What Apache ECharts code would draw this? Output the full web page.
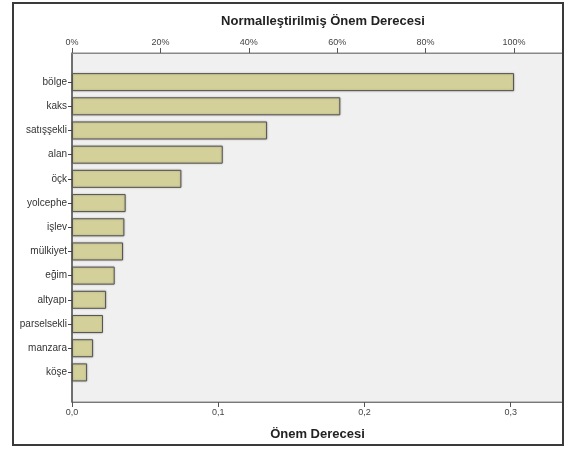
<!DOCTYPE html>
<html><head><meta charset="utf-8">
<script src="https://cdn.jsdelivr.net/npm/echarts@6/dist/echarts.min.js"></script>
<style>html,body{margin:0;padding:0;background:#fff}#c{width:566px;height:453px}</style>
</head><body><div id="c"></div>
<script>
const categories = ['bölge','kaks','satışşekli','alan','öçk','yolcephe','işlev','mülkiyet','eğim','altyapı','parselsekli','manzara','köşe'];
const importance = [0.3023,0.1835,0.1334,0.1031,0.0748,0.0367,0.0358,0.0349,0.0292,0.0233,0.0212,0.0144,0.0103];
const axisMax = 0.3358;
const chartTitle = 'Normalleştirilmiş Önem Derecesi';
const xTitle = 'Önem Derecesi';

const maxVal = Math.max(...importance);
const pctMax = axisMax / maxVal * 100;
const font = 'Arial, "Liberation Sans", sans-serif';

const chart = echarts.init(document.getElementById('c'));
chart.setOption({
  animation: false,
  backgroundColor: '#fff',
  graphic: [{
    type: 'rect', shape: {x: 13, y: 3, width: 550, height: 442},
    style: {fill: 'none', stroke: '#3a3a3a', lineWidth: 2}, z: 100
  }],
  title: {
    text: chartTitle, left: 318, top: 10, textAlign: 'center',
    textStyle: {fontFamily: font, fontSize: 13, fontWeight: 'bold', color: '#222'}
  },
  grid: [
    {left: 72, right: 3, top: 53, bottom: 51, show: true, backgroundColor: '#f0f0f0', borderColor: '#8a8a8a', borderWidth: 1},
    {left: 72, right: 3, top: 70, bottom: 68.5}
  ],
  xAxis: [
    {gridIndex: 0, type: 'value', position: 'bottom', min: 0, max: axisMax, interval: 0.1,
     name: xTitle, nameLocation: 'middle', nameGap: 26,
     nameTextStyle: {fontFamily: font, fontSize: 13, fontWeight: 'bold', color: '#222'},
     axisLine: {show: true, lineStyle: {color: '#777', width: 1}},
     axisTick: {show: true, length: 5, lineStyle: {color: '#555'}},
     splitLine: {show: false},
     axisLabel: {fontFamily: font, fontSize: 9, color: '#444', margin: 6, showMaxLabel: false,
       formatter: v => (Math.abs(v*10 - Math.round(v*10)) < 1e-6) ? v.toFixed(1).replace('.', ',') : ''}},
    {gridIndex: 0, type: 'value', position: 'top', min: 0, max: pctMax, interval: 20,
     axisLine: {show: true, lineStyle: {color: '#888', width: 1}},
     axisTick: {show: true, length: 5, lineStyle: {color: '#555'}},
     splitLine: {show: false},
     axisLabel: {fontFamily: font, fontSize: 9, color: '#444', margin: 6, showMaxLabel: false,
       formatter: v => (v % 20 === 0) ? v + '%' : ''}},
    {gridIndex: 1, type: 'value', min: 0, max: axisMax, show: false}
  ],
  yAxis: [
    {gridIndex: 0, type: 'value', min: 0, max: 1, show: true,
     axisLine: {show: true, lineStyle: {color: '#555', width: 1.5}},
     axisTick: {show: false}, axisLabel: {show: false}, splitLine: {show: false}},
    {gridIndex: 1, type: 'category', data: categories, inverse: true,
     axisLine: {show: false},
     axisTick: {show: true, length: 4, alignWithLabel: true, lineStyle: {color: '#444'}},
     axisLabel: {fontFamily: font, fontSize: 10, color: '#333', margin: 5}}
  ],
  series: [{
    type: 'bar', xAxisIndex: 2, yAxisIndex: 1, data: importance, barWidth: 18,
    itemStyle: {color: '#d4d09a', borderColor: '#555', borderWidth: 1,
      shadowColor: 'rgba(0,0,0,0.25)', shadowBlur: 2}
  }]
});
</script></body></html>
